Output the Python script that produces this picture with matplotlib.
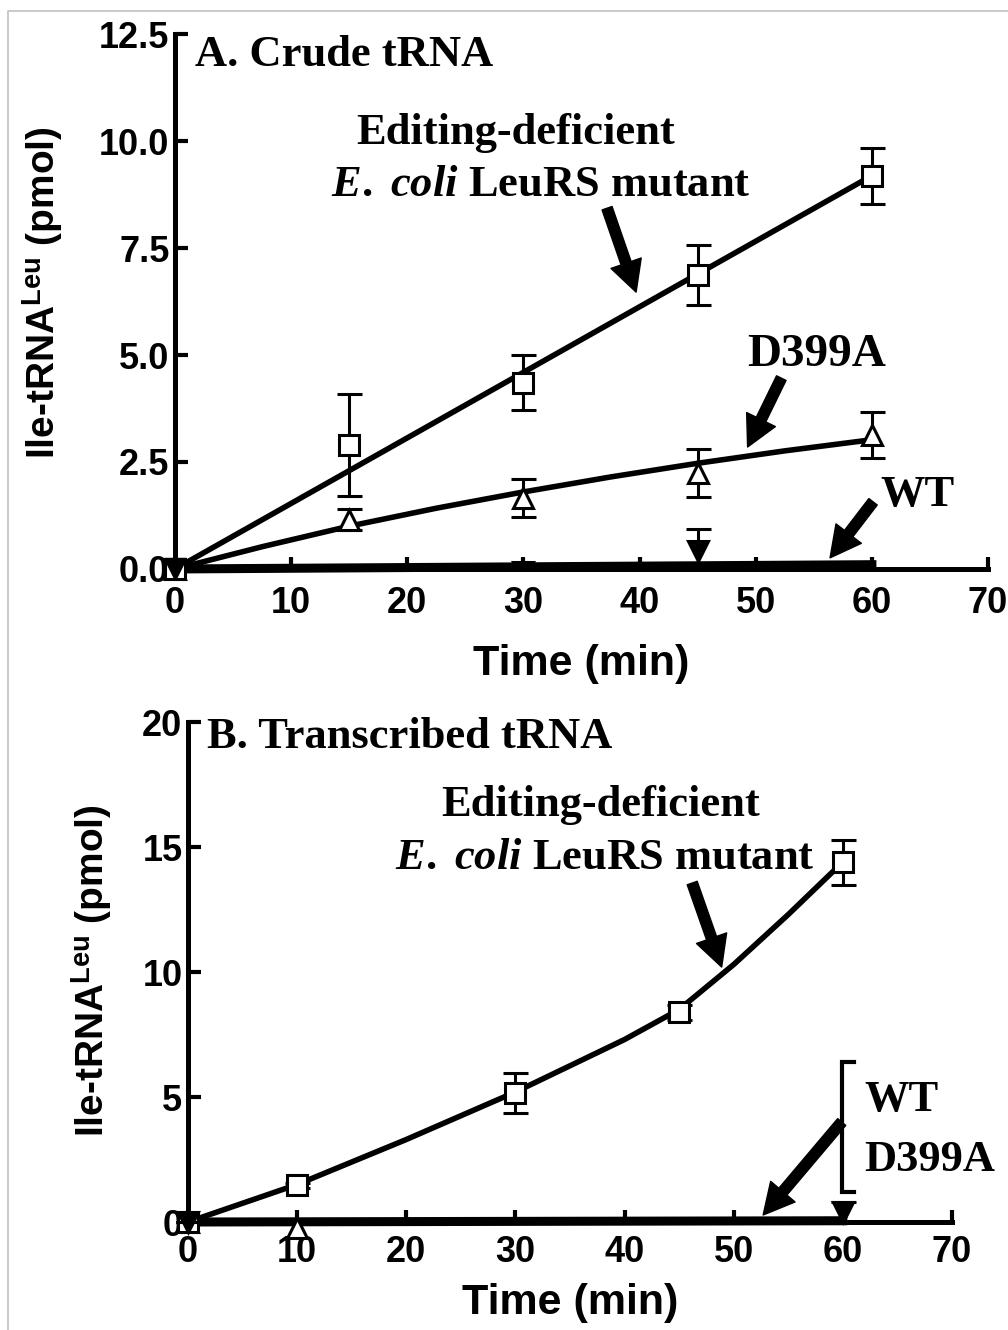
import numpy as np
import matplotlib
matplotlib.use("Agg")
import matplotlib.pyplot as plt
from matplotlib.lines import Line2D

plt.rcParams["mathtext.fontset"] = "custom"
plt.rcParams["mathtext.rm"] = "Liberation Serif:bold"
plt.rcParams["mathtext.it"] = "Liberation Serif:italic:bold"
plt.rcParams["mathtext.sf"] = "Liberation Sans:bold"
plt.rcParams["mathtext.bf"] = "Liberation Sans:bold"

SERIF = "Liberation Serif"
SANS = "Liberation Sans"

# ---- panel A: crude tRNA ----
time_a = [0, 15, 30, 45, 60]
mut_a = [0, 2.9, 4.35, 6.87, 9.18]
mut_a_err = [0, 1.2, 0.64, 0.7, 0.66]
d399a_a = [0, 1.15, 1.66, 2.24, 3.13]
d399a_a_err = [0, 0.25, 0.45, 0.56, 0.54]
# WT points that show above the axis line
wt_a_time = [30, 45]
wt_a = [-0.08, 0.43]
wt_a_err = [0.1, 0.5]
wt_a_line_t = [0, 60]
wt_a_line_y = [0, 0.1]
# D399A curve as drawn in the figure
d399a_fit_t = [0, 7.5, 15, 22.5, 30, 37.5, 45, 52.5, 60]
d399a_fit_y = [0, 0.52, 1.0, 1.42, 1.8, 2.15, 2.47, 2.76, 3.02]

# ---- panel B: transcribed tRNA ----
time_b = [0, 10, 30, 45, 60]
mut_b = [0, 1.48, 5.16, 8.4, 14.4]
mut_b_err = [0, 0.1, 0.8, 0.3, 0.9]
d399a_b_time = [0, 10]
d399a_b = [0, -0.25]
wt_b_time = [0, 60]
wt_b = [0, 0.4]
wt_b_err = [0, 0.4]
mut_b_fit_t = [0, 10, 20, 30, 40, 45, 50, 55, 60]
mut_b_fit_y = [0, 1.5, 3.3, 5.2, 7.3, 8.5, 10.3, 12.3, 14.4]
flat_b_t = [0, 60]
flat_b_y = [0, 0.05]

xticks = [0, 10, 20, 30, 40, 50, 60, 70]
yticks_a = [0, 2.5, 5.0, 7.5, 10.0, 12.5]
yticks_b = [0, 5, 10, 15, 20]

LW = 4.0
ERR_KW = dict(ecolor="k", elinewidth=2.2, capsize=9, capthick=3)
ARROW = dict(arrowstyle="simple,head_length=1.1,head_width=1.15,tail_width=0.38",
             mutation_scale=20, fc="k", ec="k", shrinkA=0, shrinkB=0)


def origin_fit(t, y):
    t = np.asarray(t, float)
    y = np.asarray(y, float)
    slope = (t * y).sum() / (t * t).sum()
    return t, slope * t


def style_axes(ax, ymax, yticks, ylabels, xpad, labelpad, ylabel_x, ylabel_y):
    ax.set_xlim(0, 70)
    ax.set_ylim(0, ymax)
    for s in ["top", "right"]:
        ax.spines[s].set_visible(False)
    for s in ["left", "bottom"]:
        ax.spines[s].set_linewidth(3.6)
    ax.set_xticks(xticks)
    ax.set_yticks(yticks)
    ax.set_yticklabels(ylabels)
    ax.tick_params(direction="in", length=9, width=3)
    ax.tick_params(axis="x", pad=xpad)
    ax.tick_params(axis="y", pad=4)
    for lab in ax.get_xticklabels() + ax.get_yticklabels():
        lab.set_fontfamily(SANS)
        lab.set_fontweight("bold")
        lab.set_fontsize(26)
    ax.set_xlabel("Time (min)", fontfamily=SANS, fontweight="bold", fontsize=31,
                  labelpad=labelpad)
    ax.text(ylabel_x, ylabel_y, r"Ile-tRNA$^{\mathsf{Leu}}$ (pmol)", transform=ax.transAxes,
            rotation=90, ha="center", va="center", fontfamily=SANS,
            fontweight="bold", fontsize=28)


def serif_text(ax, x, y, s, ha="center", size=32):
    ax.text(x, y, s, ha=ha, va="center", fontfamily=SERIF, fontweight="bold",
            fontsize=size, clip_on=False)


ECOLI = r"$\mathit{E.}$ $\mathit{coli}$ LeuRS mutant"

fig = plt.figure(figsize=(10.08, 13.3), dpi=100)
fig.add_artist(Line2D([8 / 1008, 8 / 1008, 1], [0, 1 - 11 / 1330, 1 - 11 / 1330],
                      color="#c0c0c0", lw=1.2, transform=fig.transFigure))

# ---------------- panel A ----------------
ax = fig.add_axes([0.1736, 0.5722, 0.8066, 0.4022])
style_axes(ax, 12.5, yticks_a, ["0.0", "2.5", "5.0", "7.5", "10.0", "12.5"],
           xpad=12, labelpad=17, ylabel_x=-0.162, ylabel_y=0.516)
ft, fy = origin_fit(time_a, mut_a)
ax.plot(ft, fy, color="k", lw=LW, clip_on=False, zorder=2)
ax.plot(d399a_fit_t, d399a_fit_y, color="k", lw=LW, clip_on=False, zorder=2)
ax.plot(wt_a_line_t, wt_a_line_y, color="k", lw=6.5, clip_on=False, zorder=2)
ax.errorbar(time_a, d399a_a, yerr=d399a_a_err, fmt="^", ms=15, mfc="white",
            mec="k", mew=2.2, zorder=3, clip_on=False, **ERR_KW)
ax.errorbar(time_a, mut_a, yerr=mut_a_err, fmt="s", ms=14, mfc="white",
            mec="k", mew=2.2, zorder=3, clip_on=False, **ERR_KW)
ax.errorbar(wt_a_time, wt_a, yerr=wt_a_err, fmt="v", ms=14, mfc="k",
            mec="k", mew=2.2, zorder=3, clip_on=True, **ERR_KW)
# WT point at t=0, drawn over the open markers as in the original
ax.plot([0], [0], "v", ms=16, color="k", clip_on=False, zorder=4)

serif_text(ax, 1.7, 12.0, "A. Crude tRNA", ha="left")
serif_text(ax, 29.3, 10.19, "Editing-deficient")
serif_text(ax, 31.5, 8.97, ECOLI)
serif_text(ax, 55.2, 5.0, "D399A", size=34)
serif_text(ax, 63.9, 1.73, "WT")
ax.annotate("", xy=(39.7, 6.47), xytext=(37.2, 8.43), arrowprops=ARROW)
ax.annotate("", xy=(49.3, 2.85), xytext=(52.2, 4.46), arrowprops=ARROW)
ax.annotate("", xy=(56.4, 0.26), xytext=(60.1, 1.57), arrowprops=ARROW)

# ---------------- panel B ----------------
ax = fig.add_axes([0.1865, 0.0812, 0.7579, 0.3759])
style_axes(ax, 20, yticks_b, ["0", "5", "10", "15", "20"],
           xpad=9, labelpad=10, ylabel_x=-0.1257, ylabel_y=0.502)
ax.plot(mut_b_fit_t, mut_b_fit_y, color="k", lw=LW, clip_on=False, zorder=2)
ax.plot(flat_b_t, flat_b_y, color="k", lw=6.5, clip_on=False, zorder=2)
ax.plot(d399a_b_time, d399a_b, "^", ms=15, mfc="white", mec="k", mew=2.2,
        clip_on=False, zorder=3)
ax.errorbar(time_b, mut_b, yerr=mut_b_err, fmt="s", ms=14, mfc="white",
            mec="k", mew=2.2, zorder=3, clip_on=False, **ERR_KW)
ax.errorbar(wt_b_time, wt_b, yerr=wt_b_err, fmt="v", ms=14, mfc="k",
            mec="k", mew=2.2, zorder=4, clip_on=False, **ERR_KW)

serif_text(ax, 1.7, 19.4, "B. Transcribed tRNA", ha="left")
serif_text(ax, 37.8, 16.7, "Editing-deficient")
serif_text(ax, 38.2, 14.56, ECOLI)
serif_text(ax, 62.0, 4.88, "WT", ha="left")
serif_text(ax, 62.0, 2.5, "D399A", ha="left")
ax.plot([61.0, 59.9, 59.9, 61.0], [6.4, 6.4, 1.2, 1.2], color="k", lw=3,
        clip_on=False, solid_joinstyle="miter")
ax.annotate("", xy=(48.9, 10.2), xytext=(46.2, 13.56), arrowprops=ARROW)
ax.annotate("", xy=(52.7, 0.28), xytext=(59.9, 4.0), arrowprops=ARROW)

fig.savefig("out.png", dpi=100)
